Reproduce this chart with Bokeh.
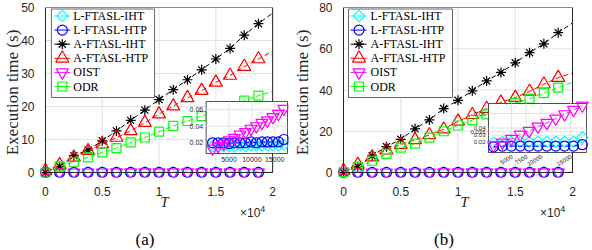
import math
from bokeh.plotting import figure
from bokeh.models import Range1d, FixedTicker, Div
from bokeh.layouts import row, column
from bokeh.embed import file_html
from bokeh.resources import INLINE
from bokeh.core.properties import value

# ---------------- data ----------------
SERIES = ["L-FTASL-IHT", "L-FTASL-HTP", "A-FTASL-IHT", "A-FTASL-HTP", "OIST", "ODR"]
COLORS = ["#00FFFF", "#0000FF", "#000000", "#FF0000", "#FF00FF", "#00FF00"]
MARKERS = ["square", "circle", "asterisk", "triangle", "inverted_triangle", "square"]
SIZES = [8, 10, 10, 13, 12, 9]
ANGLES = [math.pi / 4, 0, 0, 0, 0, 0]

T_MAIN = [0, 1250, 2500, 3750, 5000, 6250, 7500, 8750, 10000, 11250, 12500,
          13750, 15000, 16250, 17500, 18750, 20000]
N_MARK = 16
X_TICKS = [0, 5000, 10000, 15000, 20000]
X_TICK_LABELS = ["0", "0.5", "1", "1.5", "2"]

# panel (a)
Y_TICKS_A = [0, 10, 20, 30, 40, 50]
LIHT_A = [0.000, 0.016, 0.016, 0.016, 0.017, 0.016, 0.017, 0.017, 0.017, 0.017, 0.018, 0.017, 0.018, 0.018, 0.018, 0.018, 0.018]
LHTP_A = [0.000, 0.020, 0.020, 0.019, 0.020, 0.020, 0.020, 0.021, 0.020, 0.021, 0.021, 0.021, 0.021, 0.022, 0.022, 0.024, 0.026]
AIHT_A = [0.0, 1.8, 5.1, 6.8, 9.6, 12.6, 15.8, 18.9, 22.1, 25.1, 28.1, 31.1, 34.4, 37.6, 41.6, 45.1, 48.3]
AHTP_A = [0.5, 2.3, 4.6, 6.6, 8.6, 10.6, 12.6, 15.1, 17.7, 20.1, 22.6, 24.8, 27.3, 29.4, 32.1, 34.4, 36.8]
OIST_A = [0.000, 0.006, 0.010, 0.014, 0.018, 0.022, 0.026, 0.030, 0.034, 0.038, 0.042, 0.046, 0.050, 0.054, 0.058, 0.062, 0.066]
ODR_A = [0.0, 1.8, 3.1, 4.6, 6.1, 7.4, 9.1, 10.6, 12.4, 14.1, 15.6, 17.1, 18.6, 20.1, 21.8, 23.3, 24.6]

T_IN_A = [1400, 2600, 3800, 5000, 6200, 7400, 8600, 9800, 11000, 12200, 13400, 14600, 15800, 17000]
LIHT_IN_A = [0.016, 0.016, 0.016, 0.016, 0.016, 0.017, 0.016, 0.017, 0.017, 0.017, 0.017, 0.017, 0.017, 0.018]
LHTP_IN_A = [0.020, 0.020, 0.020, 0.019, 0.020, 0.020, 0.020, 0.021, 0.020, 0.021, 0.021, 0.021, 0.021, 0.024]
OIST_IN_A = [0.013, 0.016, 0.019, 0.023, 0.026, 0.030, 0.033, 0.037, 0.040, 0.044, 0.047, 0.051, 0.055, 0.061]
IN_A_XTICKS = [5000, 10000, 15000]
IN_A_XLABELS = ["5000", "10000", "15000"]
IN_A_YTICKS = [0.02, 0.04, 0.06]
IN_A_YLABELS = ["0.02", "0.04", "0.06"]

# panel (b)
Y_TICKS_B = [0, 20, 40, 60, 80]
LIHT_B = [0.000, 0.020, 0.021, 0.021, 0.021, 0.021, 0.021, 0.021, 0.021, 0.021, 0.021, 0.021, 0.021, 0.022, 0.022, 0.024, 0.027]
LHTP_B = [0.000, 0.014, 0.015, 0.015, 0.015, 0.015, 0.015, 0.015, 0.015, 0.015, 0.015, 0.015, 0.016, 0.016, 0.016, 0.017, 0.017]
AIHT_B = [0.0, 2.9, 8.1, 12.5, 16.1, 21.2, 25.5, 31.0, 35.0, 39.6, 44.4, 48.5, 53.2, 58.1, 62.4, 67.8, 72.5]
AHTP_B = [0.8, 3.8, 7.5, 10.8, 13.5, 15.8, 18.2, 21.0, 24.8, 28.0, 31.0, 34.0, 36.3, 39.3, 42.8, 46.0, 48.2]
OIST_B = [0.000, 0.007, 0.011, 0.015, 0.019, 0.024, 0.028, 0.032, 0.036, 0.041, 0.045, 0.049, 0.053, 0.058, 0.062, 0.066, 0.071]
ODR_B = [0.2, 2.5, 5.7, 9.0, 12.1, 14.0, 16.9, 20.0, 22.8, 25.4, 28.2, 31.0, 33.6, 35.8, 38.5, 41.2, 43.8]

T_IN_B = [2000, 3500, 5000, 6500, 8000, 9500, 11000, 12500, 14000, 15500, 17000]
LIHT_IN_B = [0.020, 0.021, 0.021, 0.021, 0.021, 0.021, 0.021, 0.021, 0.021, 0.021, 0.027]
LHTP_IN_B = [0.014, 0.015, 0.015, 0.015, 0.015, 0.015, 0.015, 0.015, 0.015, 0.015, 0.017]
OIST_IN_B = [0.016, 0.020, 0.025, 0.031, 0.036, 0.042, 0.047, 0.053, 0.059, 0.065, 0.071]
IN_B_XTICKS = [5000, 7500, 10000, 15000]
IN_B_XLABELS = ["5000", "7500", "10000", "15000"]
IN_B_YTICKS = [0.02, 0.03, 0.035, 0.04, 0.06]
IN_B_YLABELS = ["0.02", "0.03", "0.035", "0.04", "0.06"]

# ---------------- layout (page pixels) ----------------
FIG_H = 213
DIV_H = 250 - FIG_H
FRAME_T, FRAME_B = 7, 177
BOX_T, BOX_B = 7, 172
LEG_ROWS = [15.5, 29.6, 43.7, 57.8, 71.9, 86.0]
AXIS_COL = "#262626"
GRID_COL = "#e3e3e3"


def fit(d0, d1, p0, p1, f0, f1):
    k = (d1 - d0) / (p1 - p0)
    return d0 + (f0 - p0) * k, d0 + (f1 - p0) * k


PANELS = [
    dict(fig_left=0, fig_w=290, frame_l=38, frame_r=288, box_l=43, box_r=272, ymax=50,
         yticks=Y_TICKS_A, ylab_standoff=-4,
         main=[LIHT_A, LHTP_A, AIHT_A, AHTP_A, OIST_A, ODR_A],
         inset=dict(xd=(0, 17800), xp=(205, 287), yd=(0.0071, 0.0698), yp=(153, 101),
                    T=T_IN_A, data=[LIHT_IN_A, LHTP_IN_A, OIST_IN_A],
                    xt=IN_A_XTICKS, xl=IN_A_XLABELS, yt=IN_A_YTICKS, yl=IN_A_YLABELS,
                    font="7px", rot=0.0),
         leg=dict(l=49, r=153, t=8.5, b=97, mx=60, lx0=52, lx1=68, tx=71),
         x10_left=240, cap="(a)", cap_center=145),
    dict(fig_left=290, fig_w=302, frame_l=338, frame_r=590, box_l=343, box_r=572, ymax=80,
         yticks=Y_TICKS_B, ylab_standoff=4,
         main=[LIHT_B, LHTP_B, AIHT_B, AHTP_B, OIST_B, ODR_B],
         inset=dict(xd=(1150, 17700), xp=(488, 586), yd=(0.0062, 0.0738), yp=(152, 103),
                    T=T_IN_B, data=[LIHT_IN_B, LHTP_IN_B, OIST_IN_B],
                    xt=IN_B_XTICKS, xl=IN_B_XLABELS, yt=IN_B_YTICKS, yl=IN_B_YLABELS,
                    font="6px", rot=math.pi / 6),
         leg=dict(l=348, r=452, t=8.5, b=97, mx=358.5, lx0=350, lx1=366, tx=370),
         x10_left=540, cap="(b)", cap_center=444),
]


def build(cfg):
    xmax = X_TICKS[-1]
    ymax = cfg["ymax"]
    xr = fit(0, xmax, cfg["box_l"], cfg["box_r"], cfg["frame_l"], cfg["frame_r"])
    yr = fit(0, ymax, BOX_B, BOX_T, FRAME_B, FRAME_T)
    p = figure(width=cfg["fig_w"], height=FIG_H, output_backend="svg", toolbar_location=None,
               x_range=Range1d(*xr), y_range=Range1d(*yr),
               min_border_left=cfg["frame_l"] - cfg["fig_left"],
               min_border_right=cfg["fig_left"] + cfg["fig_w"] - cfg["frame_r"],
               min_border_top=FRAME_T, min_border_bottom=FIG_H - FRAME_B)
    p.outline_line_color = None
    p.background_fill_color = "white"
    p.border_fill_color = "white"
    p.xgrid.visible = False
    p.ygrid.visible = False

    ins = cfg["inset"]
    p.extra_x_ranges = {"px": Range1d(cfg["frame_l"], cfg["frame_r"]),
                        "ix": Range1d(*fit(ins["xd"][0], ins["xd"][1], ins["xp"][0], ins["xp"][1],
                                           cfg["frame_l"], cfg["frame_r"]))}
    p.extra_y_ranges = {"py": Range1d(FRAME_B, FRAME_T),
                        "iy": Range1d(*fit(ins["yd"][0], ins["yd"][1], ins["yp"][0], ins["yp"][1],
                                           FRAME_B, FRAME_T))}

    # axes
    p.xaxis.ticker = FixedTicker(ticks=X_TICKS)
    p.xaxis.major_label_overrides = {t: l for t, l in zip(X_TICKS, X_TICK_LABELS)}
    p.yaxis.ticker = FixedTicker(ticks=cfg["yticks"])
    for ax in (p.xaxis[0], p.yaxis[0]):
        ax.axis_line_color = None
        ax.major_tick_line_color = None
        ax.minor_tick_line_color = None
        ax.major_label_text_font = "Liberation Sans"
        ax.major_label_text_font_size = "12px"
        ax.major_label_text_color = AXIS_COL
        ax.axis_label_text_font = "Liberation Serif"
        ax.axis_label_text_color = AXIS_COL
    p.xaxis.major_label_standoff = 3
    p.yaxis.major_label_standoff = 0
    p.yaxis.axis_label = "Execution time (s)"
    p.yaxis.axis_label_text_font_size = "17px"
    p.yaxis.axis_label_text_font_style = "normal"
    p.yaxis.axis_label_standoff = cfg["ylab_standoff"]
    p.xaxis.axis_label = "T"
    p.xaxis.axis_label_text_font_size = "15px"
    p.xaxis.axis_label_text_font_style = "italic"
    p.xaxis.axis_label_standoff = -5

    # grid
    n = len(X_TICKS)
    p.segment(x0=X_TICKS, y0=[0] * n, x1=X_TICKS, y1=[ymax] * n, line_color=GRID_COL, line_width=1)
    yt = cfg["yticks"]
    p.segment(x0=[0] * len(yt), y0=yt, x1=[xmax] * len(yt), y1=yt, line_color=GRID_COL, line_width=1)

    # main series
    for i, ys in enumerate(cfg["main"]):
        p.line(T_MAIN, ys, line_color=COLORS[i], line_width=1, line_dash="5 3")
        p.scatter(T_MAIN[:N_MARK], ys[:N_MARK], marker=MARKERS[i], size=SIZES[i], angle=ANGLES[i],
                  fill_color=None, line_color=COLORS[i], line_width=1.2)

    # box
    p.quad(left=[0], right=[xmax], bottom=[0], top=[ymax], fill_color=None,
           line_color=AXIS_COL, line_width=1)

    # inset
    kw = dict(x_range_name="ix", y_range_name="iy")
    x0, x1 = ins["xd"]
    y0, y1 = ins["yd"]
    p.quad(left=[x0], right=[x1], bottom=[y0], top=[y1], fill_color="white",
           line_color=AXIS_COL, line_width=0.8, **kw)
    nx, ny = len(ins["xt"]), len(ins["yt"])
    p.segment(x0=ins["xt"], y0=[y0] * nx, x1=ins["xt"], y1=[y1] * nx, line_color=GRID_COL, **kw)
    p.segment(x0=[x0] * ny, y0=ins["yt"], x1=[x1] * ny, y1=ins["yt"], line_color=GRID_COL, **kw)
    for j, si in enumerate([0, 1, 4]):
        ys = ins["data"][j]
        p.line(ins["T"], ys, line_color=COLORS[si], line_width=1, line_dash="5 3", **kw)
        p.scatter(ins["T"], ys, marker=MARKERS[si], size=SIZES[si], angle=ANGLES[si],
                  fill_color=None, line_color=COLORS[si], line_width=1.2, **kw)
    p.text(x=[x0] * ny, y=ins["yt"], text=ins["yl"], text_font=value("Liberation Sans"),
           text_font_size=ins["font"], text_color=AXIS_COL, text_align="right",
           text_baseline="middle", x_offset=-3, **kw)
    if ins["rot"] == 0:
        p.text(x=ins["xt"], y=[y0] * nx, text=ins["xl"], text_font=value("Liberation Sans"),
               text_font_size=ins["font"], text_color=AXIS_COL, text_align="center",
               text_baseline="top", y_offset=3, **kw)
    else:
        p.text(x=ins["xt"], y=[y0] * nx, text=ins["xl"], text_font=value("Liberation Sans"),
               text_font_size=ins["font"], text_color=AXIS_COL, text_align="right",
               text_baseline="top", y_offset=2, angle=ins["rot"], **kw)

    # legend (drawn in page-pixel coordinates)
    lg = cfg["leg"]
    pk = dict(x_range_name="px", y_range_name="py")
    p.quad(left=[lg["l"]], right=[lg["r"]], top=[lg["t"]], bottom=[lg["b"]], fill_color="white",
           line_color=AXIS_COL, line_width=0.7, **pk)
    for i, name in enumerate(SERIES):
        yrow = LEG_ROWS[i]
        p.segment(x0=[lg["lx0"]], y0=[yrow], x1=[lg["lx1"]], y1=[yrow], line_color=COLORS[i],
                  line_width=1, **pk)
        p.scatter([lg["mx"]], [yrow], marker=MARKERS[i], size=SIZES[i], angle=ANGLES[i],
                  fill_color=None, line_color=COLORS[i], line_width=1.2, **pk)
    p.text(x=[lg["tx"]] * len(SERIES), y=LEG_ROWS, text=SERIES, text_font=value("Liberation Serif"),
           text_font_size="12px", text_color="black", text_baseline="middle", **pk)

    # exponent and caption below the figure
    x10 = cfg["x10_left"] - cfg["fig_left"]
    cap = cfg["cap_center"] - cfg["fig_left"]
    html = (
        f'<div style="position:relative;width:{cfg["fig_w"]}px;height:{DIV_H}px;">'
        f'<span style="position:absolute;left:{x10}px;top:-7px;font-family:\'Liberation Sans\';'
        f'font-size:12px;line-height:14px;color:{AXIS_COL};white-space:nowrap;">\u00d710'
        f'<span style="font-size:9px;position:relative;top:-5px;">4</span></span>'
        f'<span style="position:absolute;left:{cap - 20}px;width:40px;top:17px;text-align:center;'
        f'font-family:\'Liberation Serif\';font-size:17px;line-height:19px;color:#000;">{cfg["cap"]}</span>'
        f'</div>'
    )
    div = Div(text=html, width=cfg["fig_w"], height=DIV_H, margin=(0, 0, 0, 0))
    return column(p, div, spacing=0)


cols = [build(c) for c in PANELS]
layout = row(*cols, spacing=0)
open("out.html", "w").write(file_html(layout, INLINE))
